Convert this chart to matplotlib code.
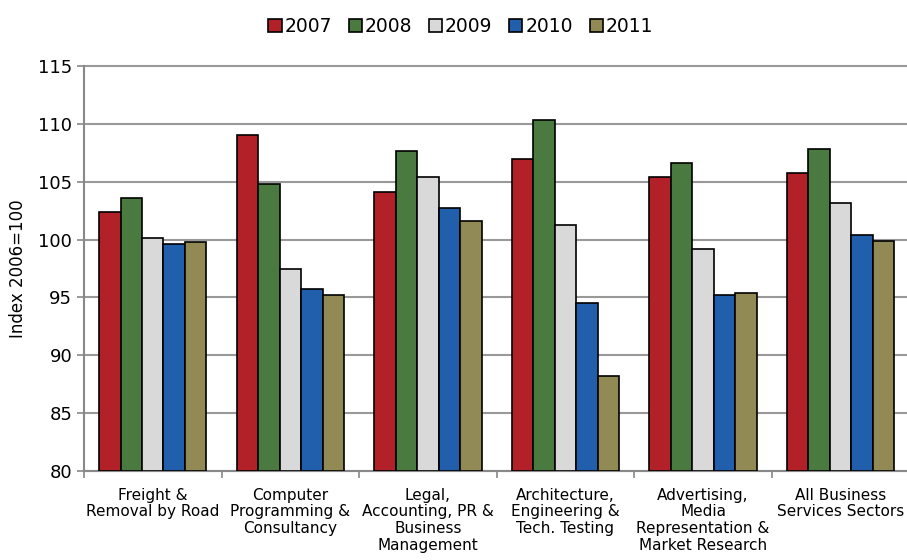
import numpy as np
import matplotlib.pyplot as plt

categories = ['Freight &\nRemoval by Road', 'Computer\nProgramming &\nConsultancy',
              'Legal,\nAccounting, PR &\nBusiness\nManagement',
              'Architecture,\nEngineering &\nTech. Testing',
              'Advertising,\nMedia\nRepresentation &\nMarket Research',
              'All Business\nServices Sectors']
years = ['2007', '2008', '2009', '2010', '2011']
v2007 = [102.4, 109.0, 104.1, 107.0, 105.4, 105.8]
v2008 = [103.6, 104.8, 107.7, 110.3, 106.6, 107.8]
v2009 = [100.1, 97.5, 105.4, 101.3, 99.2, 103.2]
v2010 = [99.6, 95.7, 102.7, 94.5, 95.2, 100.4]
v2011 = [99.8, 95.2, 101.6, 88.2, 95.4, 99.9]
colors = ['#B22028', '#4A7A40', '#D9D9D9', '#215EAB', '#918A55']

series = [v2007, v2008, v2009, v2010, v2011]

fig = plt.figure(figsize=(9.07, 5.6), dpi=100)
ax = fig.add_axes([0.0926, 0.159, 0.91, 0.723])

x = np.arange(len(categories))
w = 0.156
for i, (vals, c, yr) in enumerate(zip(series, colors, years)):
    ax.bar(x + (i - 2) * w, np.array(vals) - 80, width=w, bottom=80, color=c,
           edgecolor='black', linewidth=1.2, label=yr, zorder=3)

ax.set_ylim(80, 115)
ax.set_xlim(-0.5, len(categories) - 0.5)
ax.set_yticks(range(80, 116, 5))
ax.yaxis.grid(True, color='#999999', linewidth=1.5, zorder=0)
for gl in ax.get_ygridlines():
    gl.set_clip_on(False)
ax.set_xticks(x)
ax.set_xticklabels(categories, fontsize=11, linespacing=1.15)
ax.set_xticks(np.arange(-0.5, len(categories)), minor=True)
ax.tick_params(axis='x', which='major', length=0, pad=12)
ax.tick_params(axis='x', which='minor', length=5, color='#888888', width=1.2)
ax.tick_params(axis='y', labelsize=13, length=5, color='#888888', width=1.2)
for s in ['top', 'right']:
    ax.spines[s].set_visible(False)
for s in ['left', 'bottom']:
    ax.spines[s].set_color('#888888')
    ax.spines[s].set_linewidth(1.5)
ax.set_ylabel('Index 2006=100', fontsize=12, labelpad=8)

fig.legend(loc='upper center', bbox_to_anchor=(0.508, 1.0), ncol=5, frameon=False,
           fontsize=13.5, handlelength=0.7, handleheight=0.7, handletextpad=0.15,
           columnspacing=0.9)

fig.savefig('out.png', dpi=100)
